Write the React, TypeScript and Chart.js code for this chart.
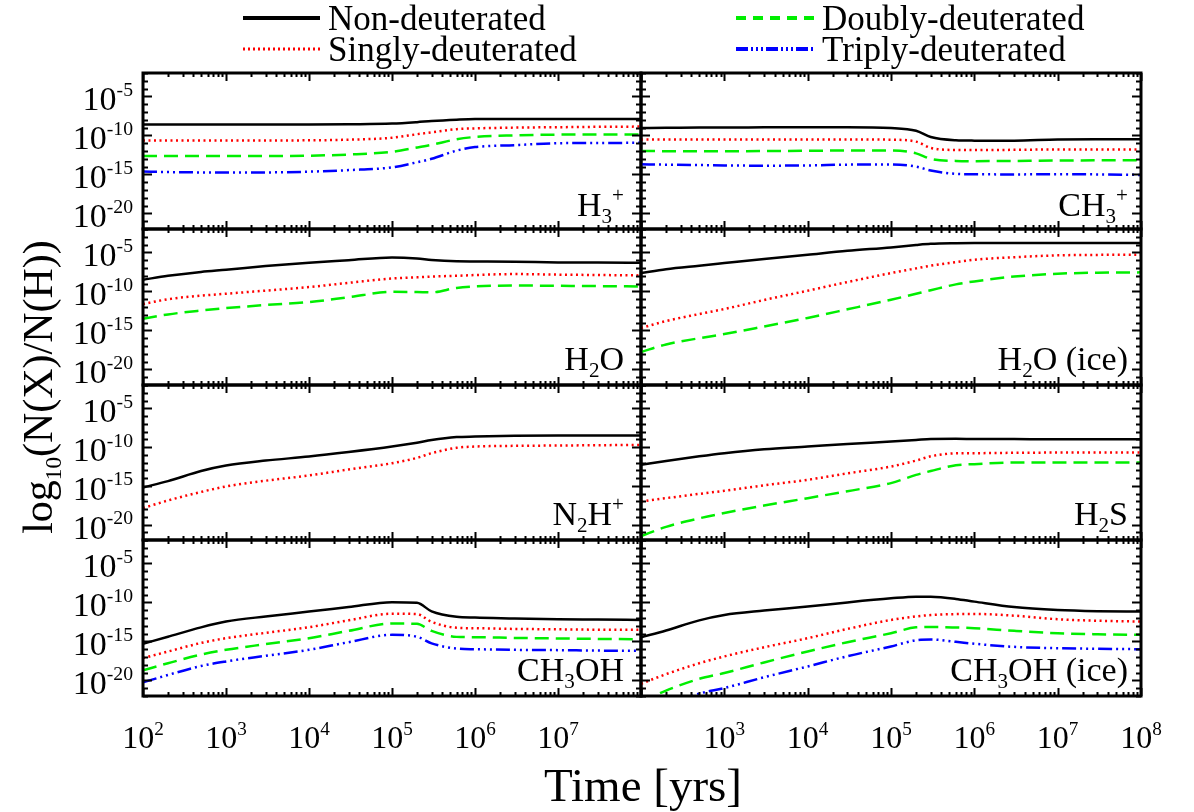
import React, { useEffect, useRef } from "react";
import { Chart, registerables } from "chart.js";
Chart.register(...registerables);

const W = 1194;
const H = 812;
const FONT = '"Liberation Serif", "Times New Roman", serif';

// ---- data (log10 abundances) ----
const TIMES = [1e2, 2e2, 5e2, 1e3, 3e3, 1e4, 3e4, 1e5, 2e5, 3e5, 6e5, 1e6, 3e6, 1e7, 3e7, 1e8];

const H3P_0 = [-8.61, -8.61, -8.61, -8.61, -8.6, -8.6, -8.57, -8.49, -8.3, -8.15, -7.98, -7.9, -7.89, -7.89, -7.89, -7.89];
const H3P_1 = [-10.65, -10.65, -10.65, -10.65, -10.65, -10.63, -10.55, -10.3, -9.85, -9.6, -9.2, -9.1, -9.0, -8.95, -8.9, -8.87];
const H3P_2 = [-12.65, -12.65, -12.65, -12.65, -12.65, -12.6, -12.45, -12.1, -11.55, -11.2, -10.5, -10.2, -10.0, -9.9, -9.9, -9.9];
const H3P_3 = [-14.64, -14.7, -14.75, -14.77, -14.75, -14.65, -14.45, -14.1, -13.45, -13.0, -11.95, -11.5, -11.25, -11.0, -10.97, -10.95];

const CH3P_0 = [-9.04, -9.03, -9.0, -9.0, -8.97, -8.95, -8.95, -9.05, -9.4, -10.2, -10.62, -10.67, -10.68, -10.52, -10.5, -10.48];
const CH3P_1 = [-10.52, -10.52, -10.52, -10.52, -10.52, -10.52, -10.52, -10.55, -10.8, -11.6, -11.87, -11.88, -11.85, -11.8, -11.8, -11.8];
const CH3P_2 = [-12.01, -12.02, -12.03, -12.03, -12.0, -11.97, -11.93, -11.92, -12.3, -13.0, -13.27, -13.3, -13.28, -13.22, -13.2, -13.2];
const CH3P_3 = [-13.71, -13.75, -13.8, -13.85, -13.88, -13.85, -13.75, -13.72, -14.0, -14.5, -14.93, -14.98, -15.0, -14.98, -15.0, -15.07];

const H2O_0 = [-8.5, -8.0, -7.5, -7.22, -6.75, -6.32, -6.0, -5.65, -5.78, -5.98, -6.15, -6.17, -6.2, -6.28, -6.3, -6.32];
const H2O_1 = [-11.62, -11.0, -10.55, -10.3, -9.9, -9.45, -8.9, -8.35, -8.2, -8.1, -8.0, -7.9, -7.78, -7.85, -7.9, -7.95];
const H2O_2 = [-13.5, -12.95, -12.45, -12.14, -11.75, -11.37, -10.75, -10.05, -10.08, -10.12, -9.55, -9.36, -9.25, -9.28, -9.32, -9.36];

const H2OI_0 = [-7.65, -7.15, -6.7, -6.37, -5.85, -5.3, -4.8, -4.36, -4.05, -3.9, -3.82, -3.8, -3.8, -3.8, -3.8, -3.8];
const H2OI_1 = [-14.7, -13.8, -12.9, -12.26, -11.1, -9.91, -8.8, -7.65, -7.05, -6.7, -6.25, -5.94, -5.62, -5.38, -5.32, -5.3];
const H2OI_2 = [-17.78, -16.8, -16.0, -15.47, -14.5, -13.4, -12.3, -11.07, -10.3, -9.85, -9.1, -8.72, -8.1, -7.73, -7.6, -7.56];

const N2HP_0 = [-15.22, -14.4, -13.1, -12.39, -11.75, -11.23, -10.65, -9.94, -9.45, -9.1, -8.72, -8.65, -8.55, -8.52, -8.52, -8.52];
const N2HP_1 = [-17.88, -16.9, -15.8, -15.09, -14.35, -13.67, -12.9, -12.09, -11.4, -10.8, -10.1, -9.94, -9.85, -9.81, -9.77, -9.73];

const H2S_0 = [-12.3, -11.8, -11.2, -10.8, -10.3, -9.94, -9.6, -9.3, -9.1, -8.97, -8.95, -8.96, -8.98, -9.0, -9.0, -9.0];
const H2S_1 = [-17.02, -16.6, -16.05, -15.65, -14.95, -14.23, -13.4, -12.52, -11.75, -11.2, -10.82, -10.8, -10.75, -10.72, -10.72, -10.71];
const H2S_2 = [-21.5, -20.3, -19.2, -18.52, -17.55, -16.6, -15.7, -14.66, -13.6, -13.1, -12.35, -12.21, -12.0, -12.0, -12.0, -12.0];

const CH3OH_0 = [-15.31, -14.4, -13.2, -12.46, -11.8, -11.18, -10.6, -9.97, -10.05, -11.15, -11.85, -11.95, -12.05, -12.16, -12.2, -12.25];
const CH3OH_1 = [-17.15, -16.3, -15.2, -14.59, -13.9, -13.18, -12.3, -11.45, -11.5, -12.5, -13.25, -13.31, -13.4, -13.45, -13.5, -13.52];
const CH3OH_2 = [-18.72, -17.8, -16.7, -16.08, -15.35, -14.59, -13.65, -12.7, -12.75, -13.65, -14.42, -14.46, -14.55, -14.62, -14.68, -14.72];
const CH3OH_3 = [-20.26, -19.3, -18.15, -17.57, -16.85, -16.08, -15.1, -14.16, -14.4, -15.25, -15.92, -16.0, -16.08, -16.12, -16.18, -16.21];

const CH3OHI_0 = [-14.46, -13.6, -12.3, -11.61, -11.05, -10.54, -10.0, -9.48, -9.27, -9.28, -9.55, -9.9, -10.6, -10.97, -11.12, -11.18];
const CH3OHI_1 = [-20.43, -19.2, -17.8, -16.93, -15.75, -14.59, -13.4, -12.25, -11.8, -11.62, -11.5, -11.48, -11.7, -12.16, -12.35, -12.46];
const CH3OHI_2 = [-22.8, -21.3, -19.8, -19.06, -17.7, -16.29, -15.1, -13.95, -13.2, -13.15, -13.22, -13.31, -13.65, -13.95, -14.08, -14.16];
const CH3OHI_3 = [-24.5, -23.3, -21.7, -20.98, -19.6, -18.21, -16.9, -15.65, -14.85, -14.75, -15.05, -15.3, -15.7, -15.87, -15.95, -16.0];

const SERIES_NAMES = ["Non-deuterated", "Singly-deuterated", "Doubly-deuterated", "Triply-deuterated"];
const Y_TICK_EXPS = [-5, -10, -15, -20];
const X_TICK_EXPS_LEFT = [2, 3, 4, 5, 6, 7];
const X_TICK_EXPS_RIGHT = [3, 4, 5, 6, 7, 8];

type Seg = [string, string?];
const PANELS: { label: Seg[]; series: (number[] | null)[] }[] = [
  { label: [["H"], ["3", "sub"], ["+", "sup"]], series: [H3P_0, H3P_1, H3P_2, H3P_3] },
  { label: [["CH"], ["3", "sub"], ["+", "sup"]], series: [CH3P_0, CH3P_1, CH3P_2, CH3P_3] },
  { label: [["H"], ["2", "sub"], ["O"]], series: [H2O_0, H2O_1, H2O_2, null] },
  { label: [["H"], ["2", "sub"], ["O (ice)"]], series: [H2OI_0, H2OI_1, H2OI_2, null] },
  { label: [["N"], ["2", "sub"], ["H"], ["+", "sup"]], series: [N2HP_0, N2HP_1, null, null] },
  { label: [["H"], ["2", "sub"], ["S"]], series: [H2S_0, H2S_1, H2S_2, null] },
  { label: [["CH"], ["3", "sub"], ["OH"]], series: [CH3OH_0, CH3OH_1, CH3OH_2, CH3OH_3] },
  { label: [["CH"], ["3", "sub"], ["OH (ice)"]], series: [CH3OHI_0, CH3OHI_1, CH3OHI_2, CH3OHI_3] },
];

// ---- styling / layout ----
const STYLES = [
  { color: "#000000", dash: [] as number[] },
  { color: "#ff0000", dash: [2, 3.5] },
  { color: "#00ee00", dash: [14, 7] },
  { color: "#0000ff", dash: [14, 4, 2, 4, 2, 4, 2, 4] },
];
const LEGEND_STYLES = [
  { color: "#000000", dash: [] as number[], w: 4 },
  { color: "#ff0000", dash: [2, 3], w: 3 },
  { color: "#00ee00", dash: [10, 7], w: 4 },
  { color: "#0000ff", dash: [12, 3, 2, 3, 2, 3, 2, 3], w: 4 },
];
const COLS = [
  [143, 641],
  [641, 1141],
];
const ROWS = [
  [73, 229],
  [229, 385],
  [385, 540],
  [540, 696],
];

function drawRich(ctx: CanvasRenderingContext2D, segs: Seg[], x: number, y: number, size: number, align: string, small = 0.62) {
  const sm = size * small;
  const parts = segs.map(([t, mode]) => {
    ctx.font = `${mode ? sm : size}px ${FONT}`;
    return { t, mode, w: ctx.measureText(t).width };
  });
  const total = parts.reduce((a, p) => a + p.w, 0);
  let cx = align === "right" ? x - total : align === "center" ? x - total / 2 : x;
  ctx.textAlign = "left";
  ctx.textBaseline = "alphabetic";
  for (const p of parts) {
    ctx.font = `${p.mode ? sm : size}px ${FONT}`;
    const dy = p.mode === "sub" ? size * 0.22 : p.mode === "sup" ? -size * 0.42 : 0;
    ctx.fillText(p.t, cx, y + dy);
    cx += p.w;
  }
  return total;
}

const panelPlugin = {
  id: "panelDeco",
  afterDatasetsDraw(chart: any, _args: any, opts: any) {
    const { ctx, chartArea: a } = chart;
    const xs = chart.scales.x;
    const ys = chart.scales.y;
    ctx.save();
    ctx.strokeStyle = "#000";
    ctx.fillStyle = "#000";
    ctx.setLineDash([]);
    ctx.lineWidth = 2;
    ctx.beginPath();
    for (let k = 2; k <= 8; k++) {
      for (let m = 1; m <= 9; m++) {
        const v = m * Math.pow(10, k);
        if (v > 1e8) break;
        const px = Math.round(xs.getPixelForValue(v)) + 0.5;
        const L = m === 1 ? 8 : 4;
        ctx.moveTo(px, a.bottom);
        ctx.lineTo(px, a.bottom - L);
        ctx.moveTo(px, a.top);
        ctx.lineTo(px, a.top + L);
      }
    }
    for (let v = -22; v <= -2; v++) {
      const py = Math.round(ys.getPixelForValue(v)) + 0.5;
      const L = v % 5 === 0 ? 9 : 5;
      ctx.moveTo(a.left, py);
      ctx.lineTo(a.left + L, py);
      ctx.moveTo(a.right, py);
      ctx.lineTo(a.right - L, py);
    }
    ctx.stroke();
    ctx.lineWidth = 3;
    ctx.strokeRect(a.left, a.top, a.right - a.left, a.bottom - a.top);

    // panel label
    drawRich(ctx, opts.label, a.right - opts.labelRight, a.bottom - opts.labelBottom, 34, "right");

    // y tick labels
    if (opts.yLabels) {
      for (const e of Y_TICK_EXPS) {
        const py = ys.getPixelForValue(e);
        drawRich(ctx, [["10"], [String(e), "sup"]], a.left - 10, py + 14, 34, "right", 0.58);
      }
    }
    // x tick labels
    if (opts.xLabels) {
      for (const e of opts.xLabels) {
        const px = xs.getPixelForValue(Math.pow(10, e));
        drawRich(ctx, [["10"], [String(e), "sup"]], px, 748, 32, "center", 0.6);
      }
    }

    if (opts.global) {
      // legend
      const rowsY = [18, 49];
      const items = [
        { i: 0, x0: 243, x1: 320, tx: 328, r: 0 },
        { i: 1, x0: 243, x1: 320, tx: 328, r: 1 },
        { i: 2, x0: 736, x1: 815, tx: 822, r: 0 },
        { i: 3, x0: 736, x1: 815, tx: 822, r: 1 },
      ];
      for (const it of items) {
        const st = LEGEND_STYLES[it.i];
        const y = rowsY[it.r];
        ctx.strokeStyle = st.color;
        ctx.lineWidth = st.w;
        ctx.setLineDash(st.dash);
        ctx.beginPath();
        ctx.moveTo(it.x0, y);
        ctx.lineTo(it.x1, y);
        ctx.stroke();
        ctx.setLineDash([]);
        ctx.fillStyle = "#000";
        ctx.font = `35px ${FONT}`;
        ctx.textAlign = "left";
        ctx.textBaseline = "alphabetic";
        ctx.fillText(SERIES_NAMES[it.i], it.tx, y + 12);
      }
      // axis titles
      ctx.fillStyle = "#000";
      drawRich(ctx, [["Time [yrs]"]], 643, 801, 47, "center");
      ctx.save();
      ctx.translate(52, 387);
      ctx.rotate(-Math.PI / 2);
      drawRich(ctx, [["log"], ["10", "sub"], ["(N(X)/N(H))"]], 0, 0, 42, "center", 0.55);
      ctx.restore();
    }
    ctx.restore();
  },
};

export default function App() {
  const refs = useRef<(HTMLCanvasElement | null)[]>([]);
  useEffect(() => {
    const charts = PANELS.map((p, i) => {
      const col = i % 2;
      const row = Math.floor(i / 2);
      const [x0, x1] = COLS[col];
      const [y0, y1] = ROWS[row];
      const datasets = p.series
        .map((s, j) =>
          s
            ? {
                label: SERIES_NAMES[j],
                data: TIMES.map((t, k) => ({ x: t, y: s[k] })),
                borderColor: STYLES[j].color,
                borderDash: STYLES[j].dash,
                borderWidth: 2.5,
                pointRadius: 0,
                cubicInterpolationMode: "monotone",
                fill: false,
                clip: 0,
              }
            : null
        )
        .filter(Boolean);
      return new Chart(refs.current[i] as HTMLCanvasElement, {
        type: "line",
        data: { datasets: datasets as any },
        options: {
          animation: false,
          responsive: false,
          events: [],
          layout: { padding: { left: x0, top: y0, right: W - x1, bottom: H - y1 } },
          scales: {
            x: { type: "logarithmic", min: 1e2, max: 1e8, display: false },
            y: { type: "linear", min: -22, max: -2, display: false },
          },
          plugins: {
            legend: { display: false },
            tooltip: { enabled: false },
            panelDeco: {
              label: p.label,
              labelRight: col === 0 ? 17 : 13,
              labelBottom: row === 0 ? 13 : 15,
              yLabels: col === 0,
              xLabels: row === 3 ? (col === 0 ? X_TICK_EXPS_LEFT : X_TICK_EXPS_RIGHT) : null,
              global: i === 0,
            },
          } as any,
        },
        plugins: [panelPlugin as any],
      });
    });
    return () => charts.forEach((c) => c.destroy());
  }, []);
  return (
    <div style={{ position: "absolute", left: 0, top: 0, width: W, height: H, background: "#fff" }}>
      {PANELS.map((_, i) => (
        <canvas
          key={i}
          ref={(el) => {
            refs.current[i] = el;
          }}
          width={W}
          height={H}
          style={{ position: "absolute", left: 0, top: 0 }}
        />
      ))}
    </div>
  );
}
